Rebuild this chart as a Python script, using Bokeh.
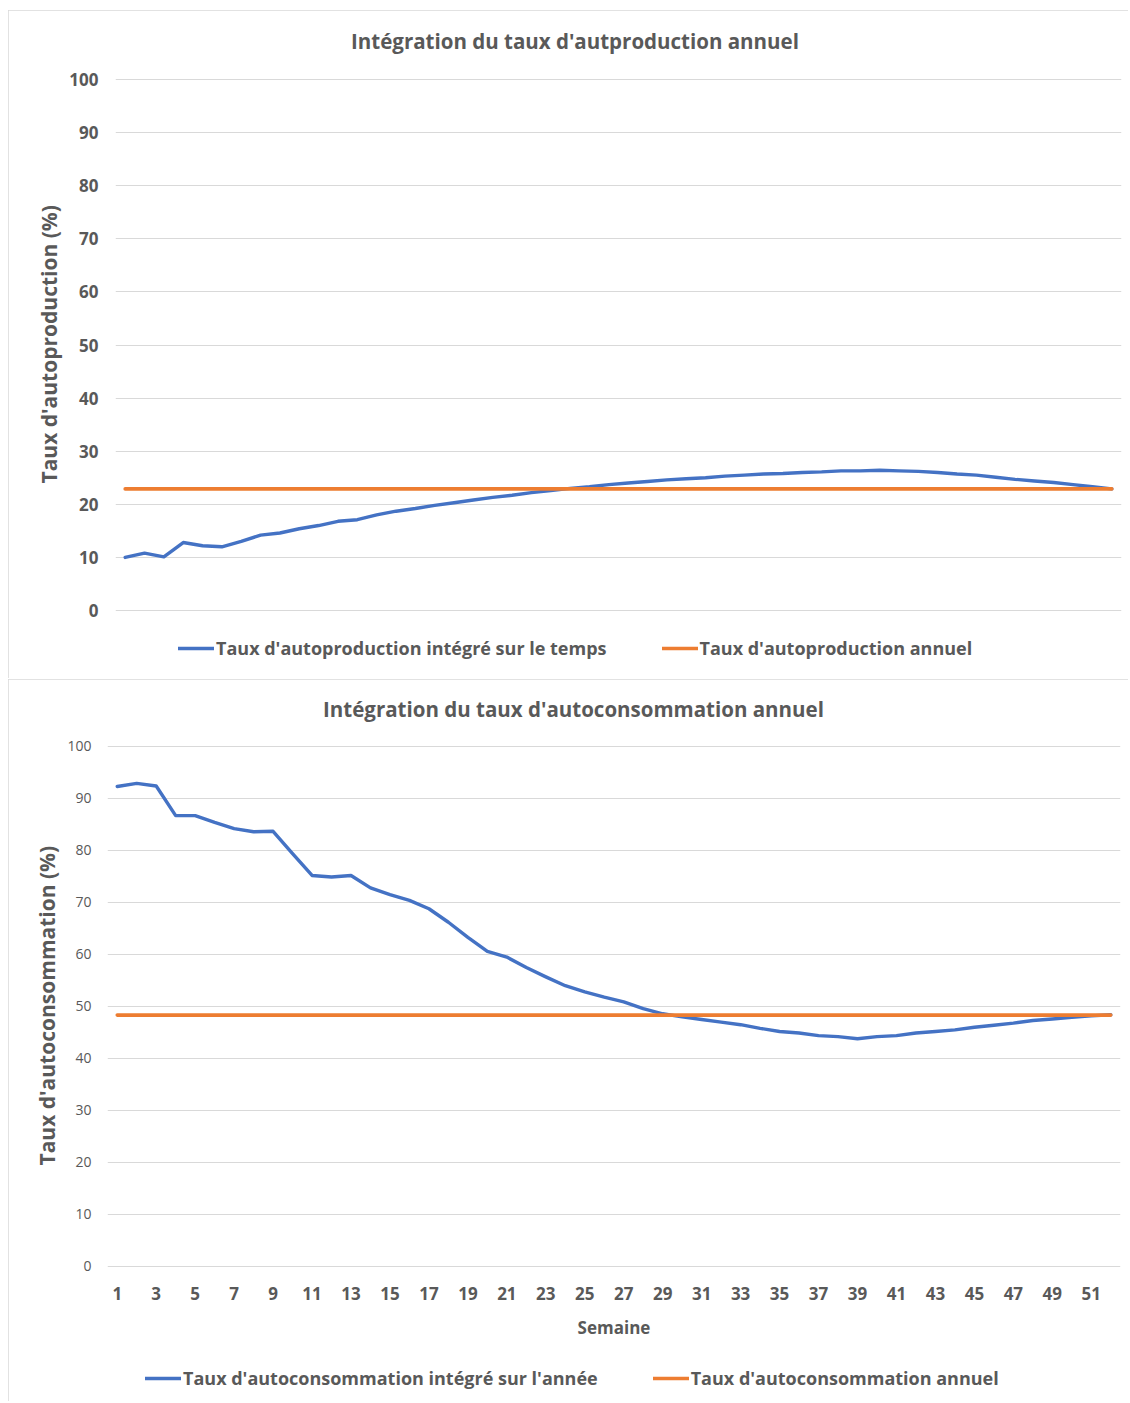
from bokeh.plotting import figure
from bokeh.models import Legend, LegendItem, FixedTicker, Range1d, Title, Label
from bokeh.embed import file_html
from bokeh.resources import INLINE

# ---------------- data ----------------
weeks = list(range(1, 53))

autoprod_integre = [
    10.0, 10.8, 10.1, 12.8, 12.2, 12.0, 13.0, 14.2, 14.6, 15.4,
    16.0, 16.8, 17.1, 18.0, 18.7, 19.2, 19.8, 20.3, 20.8, 21.3,
    21.7, 22.2, 22.6, 23.0, 23.3, 23.7, 24.0, 24.3, 24.6, 24.8,
    25.0, 25.3, 25.5, 25.7, 25.8, 26.0, 26.1, 26.3, 26.3, 26.4,
    26.3, 26.2, 26.0, 25.7, 25.5, 25.1, 24.7, 24.4, 24.1, 23.7,
    23.3, 22.9,
]
autoprod_annuel_value = 22.9

autocons_integre = [
    92.3, 92.9, 92.4, 86.7, 86.7, 85.4, 84.2, 83.6, 83.7, 79.4,
    75.2, 74.9, 75.2, 72.8, 71.5, 70.4, 68.8, 66.2, 63.3, 60.6,
    59.5, 57.5, 55.7, 54.0, 52.8, 51.8, 50.9, 49.6, 48.6, 48.0,
    47.5, 47.0, 46.5, 45.8, 45.2, 44.9, 44.4, 44.2, 43.8, 44.2,
    44.4, 44.9, 45.2, 45.5, 46.0, 46.4, 46.8, 47.3, 47.6, 47.9,
    48.2, 48.4,
]
autocons_annuel_value = 48.35

y_ticks = [0, 10, 20, 30, 40, 50, 60, 70, 80, 90, 100]
x_ticks = list(range(1, 52, 2))

title_top = "Intégration du taux d'autproduction annuel"
title_bottom = "Intégration du taux d'autoconsommation annuel"
ylabel_top = "Taux d'autoproduction (%)"
ylabel_bottom = "Taux d'autoconsommation (%)"
xlabel_bottom = "Semaine"
legend_top = ["Taux d'autoproduction intégré sur le temps", "Taux d'autoproduction annuel"]
legend_bottom = ["Taux d'autoconsommation intégré sur l'année", "Taux d'autoconsommation annuel"]

# ---------------- style ----------------
FONT = "Open Sans"
TXT = "#595959"
GRID = "#D9D9D9"
BLUE = "#4472C4"
ORANGE = "#ED7D31"
W = 1120


def base_fig(height, y_min, y_max, mb_left, mb_right, mb_top, mb_bottom, margin):
    p = figure(width=W, height=height, x_range=Range1d(0.5, 52.5), y_range=Range1d(y_min, y_max),
               output_backend="svg", toolbar_location=None,
               min_border_left=mb_left, min_border_right=mb_right,
               min_border_top=mb_top, min_border_bottom=mb_bottom,
               background_fill_color="white", border_fill_color="white",
               outline_line_color=None, margin=margin)
    p.styles = {"outline": "1px solid #D9D9D9", "outline-offset": "-1px"}
    p.xgrid.grid_line_color = None
    p.ygrid.grid_line_color = GRID
    p.ygrid.grid_line_width = 1
    p.yaxis.ticker = FixedTicker(ticks=y_ticks)
    p.yaxis.axis_line_color = None
    p.yaxis.major_tick_line_color = None
    p.yaxis.minor_tick_line_color = None
    p.yaxis.major_tick_out = 0
    p.yaxis.major_tick_in = 0
    p.yaxis.major_label_text_font = FONT
    p.yaxis.major_label_text_color = TXT
    return p


def add_title(p, text, x, y):
    p.add_layout(Label(x=x, y=y, text=text, text_align="center", text_baseline="middle",
                       text_font=FONT, text_font_size="20.5px", text_font_style="bold",
                       text_color=TXT))


def add_ytitle(p, text, offset):
    t = Title(text=text, align="left", offset=offset, standoff=7,
              text_font=FONT, text_font_size="21px", text_font_style="bold", text_color=TXT)
    p.add_layout(t, "left")


def add_series(p, yvals, annual_value, labels, loc):
    r1 = p.line(weeks, yvals, line_color=BLUE, line_width=3.4, line_join="round", line_cap="round")
    r2 = p.line(weeks, [annual_value] * len(weeks), line_color=ORANGE, line_width=3.6, line_cap="round")
    leg = Legend(items=[LegendItem(label=labels[0], renderers=[r1]),
                        LegendItem(label=labels[1], renderers=[r2])],
                 orientation="horizontal", location=loc, margin=0, padding=0,
                 spacing=55, glyph_width=36, glyph_height=20, label_height=20,
                 label_standoff=2, background_fill_alpha=0, border_line_color=None,
                 label_text_font=FONT, label_text_font_size="18px",
                 label_text_font_style="bold", label_text_color=TXT)
    p.add_layout(leg)


# ---------------- top chart ----------------
# frame spans fig px 2..662; y=100 at 69px, y=0 at 600px
p1 = base_fig(668, -11.676, 112.618, 107, 7, 2, 6, (10, 0, 0, 8))
p1.xaxis.visible = False
p1.yaxis.major_label_text_font_size = "17px"
p1.yaxis.major_label_text_font_style = "bold"
p1.yaxis.major_label_standoff = 17
add_title(p1, title_top, 24.25, 107.16)
add_ytitle(p1, ylabel_top, 189)
add_series(p1, autoprod_integre, autoprod_annuel_value, legend_top, (63, 12))

# ---------------- bottom chart ----------------
# frame spans fig px 2..719; y=100 at 67px, y=0 at 587px
p2 = base_fig(722, -25.385, 112.5, 99, 8, 2, 3, (1, 0, 0, 8))
p2.yaxis.major_label_text_font_size = "14px"
p2.yaxis.major_label_standoff = 16
add_title(p2, title_bottom, 24.42, 107.12)
add_ytitle(p2, ylabel_bottom, 233)
p2.xaxis.fixed_location = 0
p2.xaxis.ticker = FixedTicker(ticks=x_ticks)
p2.xaxis.axis_line_color = None
p2.xaxis.major_tick_line_color = None
p2.xaxis.minor_tick_line_color = None
p2.xaxis.major_tick_out = 0
p2.xaxis.major_tick_in = 0
p2.xaxis.major_label_text_font = FONT
p2.xaxis.major_label_text_font_size = "17px"
p2.xaxis.major_label_text_font_style = "bold"
p2.xaxis.major_label_text_color = TXT
p2.xaxis.major_label_standoff = 21
p2.xaxis.axis_label = xlabel_bottom
p2.xaxis.axis_label_text_font = FONT
p2.xaxis.axis_label_text_font_size = "17px"
p2.xaxis.axis_label_text_font_style = "bold"
p2.xaxis.axis_label_text_color = TXT
p2.xaxis.axis_label_standoff = 12
add_series(p2, autocons_integre, autocons_annuel_value, legend_bottom, (38, 8))

open("out.html", "w").write(file_html([p1, p2], INLINE))
